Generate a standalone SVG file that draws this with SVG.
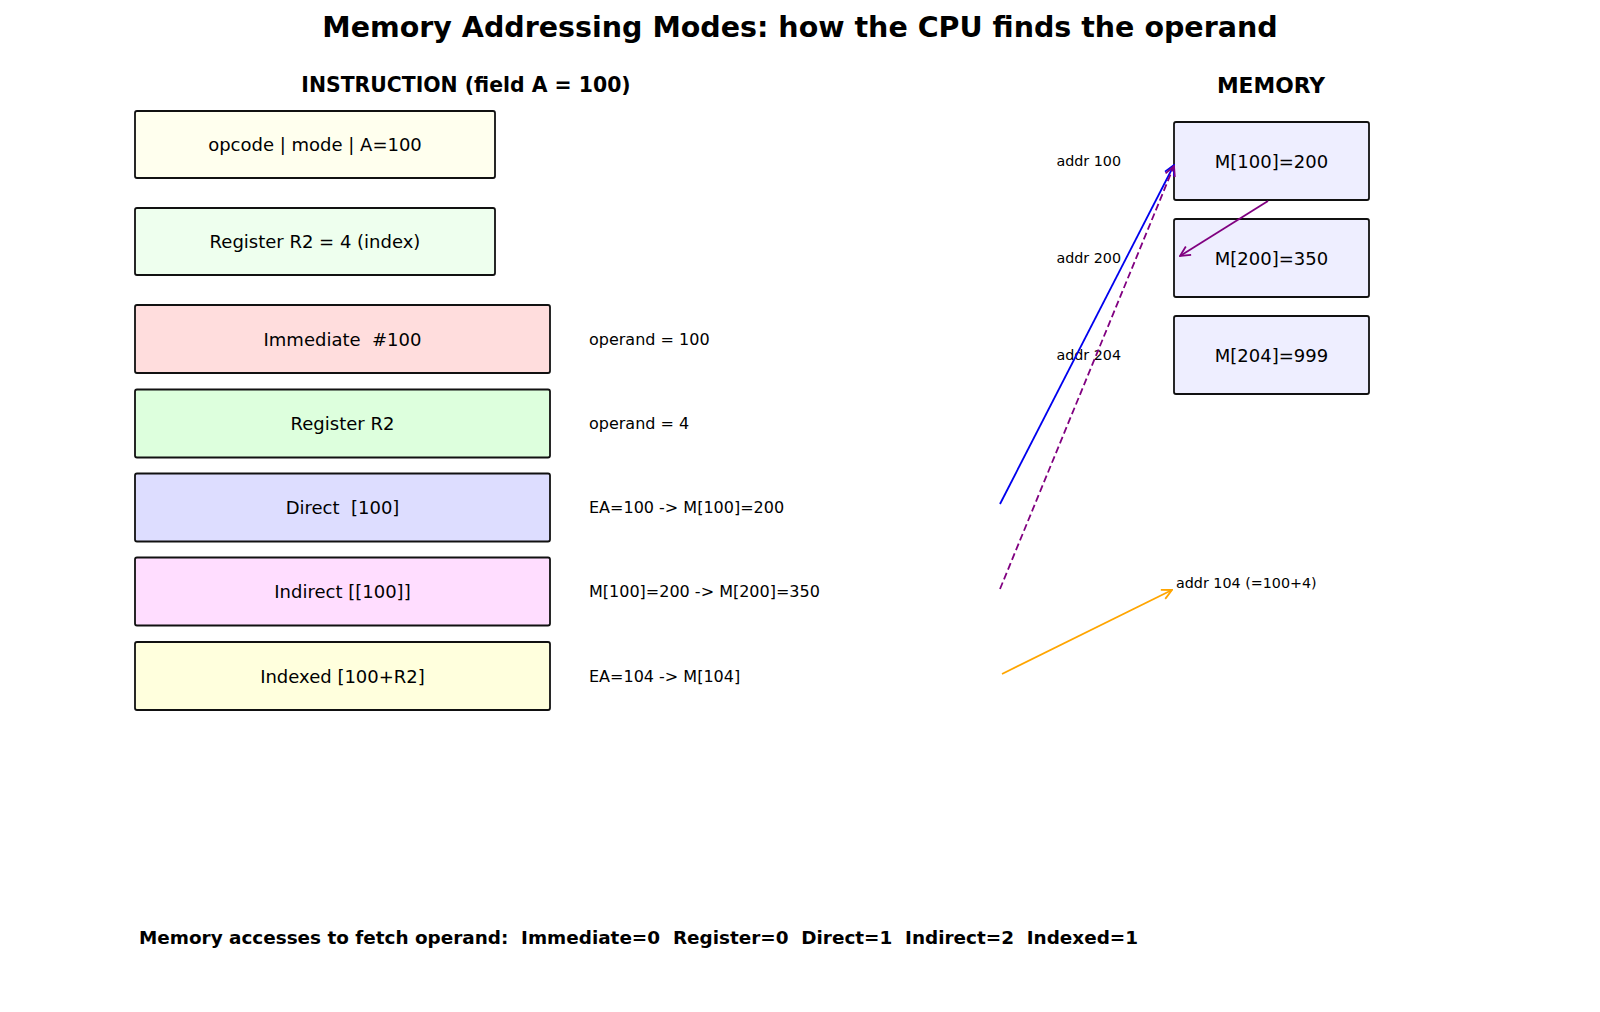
<svg xmlns="http://www.w3.org/2000/svg" width="1600" height="1012" viewBox="0 0 1600 1012">
<style>
text{font-family:"DejaVu Sans","Liberation Sans",sans-serif;fill:#000;dominant-baseline:central;white-space:pre}
.title{font-size:28.5px;font-weight:bold;text-anchor:middle}
.hdr{font-size:20.4px;font-weight:bold;text-anchor:middle}
.box{stroke:#111;stroke-width:1.8}
.bt{font-size:18px;text-anchor:middle}
.lbl{font-size:16px}
.addr{font-size:14.3px;text-anchor:end}
.foot{font-size:18.4px;font-weight:bold}
.conn{fill:none;stroke-width:1.8}
</style>
<defs>
<marker id="ah-blue" viewBox="0 0 12 12" refX="11" refY="6" markerWidth="12" markerHeight="12" markerUnits="userSpaceOnUse" orient="auto"><path d="M1,1 L11,6 L1,11" fill="none" stroke="#0000ee" stroke-width="1.8"/></marker>
<marker id="ah-purple" viewBox="0 0 12 12" refX="11" refY="6" markerWidth="12" markerHeight="12" markerUnits="userSpaceOnUse" orient="auto"><path d="M1,1 L11,6 L1,11" fill="none" stroke="#800080" stroke-width="1.8"/></marker>
<marker id="ah-orange" viewBox="0 0 12 12" refX="11" refY="6" markerWidth="12" markerHeight="12" markerUnits="userSpaceOnUse" orient="auto"><path d="M1,1 L11,6 L1,11" fill="none" stroke="#ffa500" stroke-width="1.8"/></marker>
</defs>
<rect width="1600" height="1012" fill="#fff"/>
<text class="title" x="800" y="27">Memory Addressing Modes: how the CPU finds the operand</text>
<text class="hdr" x="466" y="85">INSTRUCTION (field A = 100)</text>
<text class="hdr" x="1271" y="85" style="font-size:21.8px">MEMORY</text>

<g id="instr">
<rect class="box" x="135" y="111" width="360" height="67" rx="2" fill="#ffffee"/>
<text class="bt" x="315" y="144.5">opcode | mode | A=100</text>
</g>
<g id="reg-r2">
<rect class="box" x="135" y="208" width="360" height="67" rx="2" fill="#eeffee"/>
<text class="bt" x="315" y="241.5">Register R2 = 4 (index)</text>
</g>
<g id="mode-immediate">
<rect class="box" x="135" y="305" width="415" height="68" rx="2" fill="#ffdddd"/>
<text class="bt" x="342.5" y="339">Immediate  #100</text>
<text class="lbl" x="589" y="339">operand = 100</text>
</g>
<g id="mode-register">
<rect class="box" x="135" y="389.5" width="415" height="68" rx="2" fill="#ddffdd"/>
<text class="bt" x="342.5" y="423.5">Register R2</text>
<text class="lbl" x="589" y="423.5">operand = 4</text>
</g>
<g id="mode-direct">
<rect class="box" x="135" y="473.5" width="415" height="68" rx="2" fill="#ddddff"/>
<text class="bt" x="342.5" y="507.5">Direct  [100]</text>
<text class="lbl" x="589" y="507.5">EA=100 -&gt; M[100]=200</text>
</g>
<g id="mode-indirect">
<rect class="box" x="135" y="557.5" width="415" height="68" rx="2" fill="#ffddff"/>
<text class="bt" x="342.5" y="591.5">Indirect [[100]]</text>
<text class="lbl" x="589" y="591.5">M[100]=200 -&gt; M[200]=350</text>
</g>
<g id="mode-indexed">
<rect class="box" x="135" y="642" width="415" height="68" rx="2" fill="#ffffdd"/>
<text class="bt" x="342.5" y="676">Indexed [100+R2]</text>
<text class="lbl" x="589" y="676">EA=104 -&gt; M[104]</text>
</g>

<g id="mem-100">
<rect class="box" x="1174" y="122" width="195" height="78" rx="2" fill="#eeeeff"/>
<text class="bt" x="1271.5" y="161">M[100]=200</text>
<text class="addr" x="1121" y="161">addr 100</text>
</g>
<g id="mem-200">
<rect class="box" x="1174" y="219" width="195" height="78" rx="2" fill="#eeeeff"/>
<text class="bt" x="1271.5" y="258">M[200]=350</text>
<text class="addr" x="1121" y="258">addr 200</text>
</g>
<g id="mem-204">
<rect class="box" x="1174" y="316" width="195" height="78" rx="2" fill="#eeeeff"/>
<text class="bt" x="1271.5" y="355">M[204]=999</text>
<text class="addr" x="1121" y="355">addr 204</text>
</g>
<g id="mem-104">
<text style="font-size:14.3px" x="1176" y="583">addr 104 (=100+4)</text>
</g>

<g id="connectors">
<line class="conn" x1="1000" y1="504" x2="1174" y2="165" stroke="#0000ee" marker-end="url(#ah-blue)"/>
<line class="conn" x1="1000" y1="589" x2="1174" y2="166" stroke="#800080" stroke-dasharray="7,3.5" marker-end="url(#ah-purple)"/>
<line class="conn" x1="1268" y1="201" x2="1180" y2="256" stroke="#800080" marker-end="url(#ah-purple)"/>
<line class="conn" x1="1002" y1="674" x2="1172" y2="590" stroke="#ffa500" marker-end="url(#ah-orange)"/>
</g>

<text class="foot" x="139" y="937">Memory accesses to fetch operand:  Immediate=0  Register=0  Direct=1  Indirect=2  Indexed=1</text>
</svg>
